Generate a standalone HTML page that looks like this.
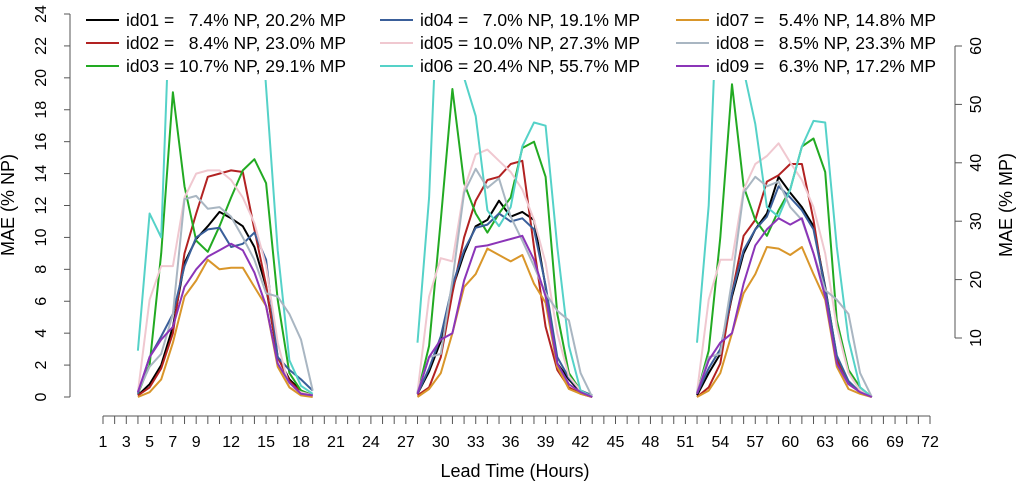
<!DOCTYPE html>
<html><head><meta charset="utf-8"><style>
body{margin:0;background:#fff;}
svg text{font-family:"Liberation Sans",Arial,sans-serif;fill:#000;}
.leg{white-space:pre;}
</style></head><body>
<svg id="chart" width="1024" height="488" viewBox="0 0 1024 488">
<defs><clipPath id="plotclip"><rect x="72" y="0" width="880" height="410"/></clipPath></defs>
<g id="lines" clip-path="url(#plotclip)"></g>
<rect x="80" y="0" width="870" height="80" fill="#fff"/>
<g id="legend"></g>
<g id="axes"></g>
<text x="14" y="205" font-size="18" text-anchor="middle" transform="rotate(-90 14 205)">MAE (% NP)</text>
<text x="1012" y="205" font-size="18" text-anchor="middle" transform="rotate(-90 1012 205)">MAE (% MP)</text>
<text x="515" y="477" font-size="18" text-anchor="middle">Lead Time (Hours)</text>
</svg>
<script>
const dayStarts = [4, 28, 52];
const seriesNames = ["id01","id02","id03","id04","id05","id06","id07","id08","id09"];
const legendLabels = ["id01 =   7.4% NP, 20.2% MP","id02 =   8.4% NP, 23.0% MP","id03 = 10.7% NP, 29.1% MP","id04 =   7.0% NP, 19.1% MP","id05 = 10.0% NP, 27.3% MP","id06 = 20.4% NP, 55.7% MP","id07 =   5.4% NP, 14.8% MP","id08 =   8.5% NP, 23.3% MP","id09 =   6.3% NP, 17.2% MP"];
const seriesColors = ["#000000","#b22222","#22aa22","#3a5f9a","#f0c8d0","#55d2c8","#d9962a","#a9b6c2","#8b35b8"];
const id01 = [0.1,0.8,2.0,4.4,8.4,9.9,10.7,11.6,11.2,10.7,9.4,6.9,2.5,1.1,0.4,0.1, 0.2,1.6,3.5,6.8,9.0,10.7,11.1,12.3,11.3,11.6,11.1,6.9,2.1,1.1,0.3,0.0, 0.1,1.5,2.7,6.3,9.0,10.5,11.5,13.8,12.8,11.9,10.7,6.9,2.5,0.9,0.3,0.0];
const id02 = [0.1,0.6,1.8,4.0,9.0,11.5,13.8,14.0,14.2,14.1,10.5,7.0,2.5,1.0,0.3,0.1, 0.1,0.6,2.5,6.5,10.0,12.3,13.6,13.8,14.6,14.8,9.4,4.4,1.7,0.6,0.2,0.0, 0.0,0.6,2.1,6.5,10.1,11.1,13.5,13.9,14.6,14.6,11.1,6.5,2.3,0.9,0.3,0.0];
const id03 = [0.2,2.0,9.0,19.1,13.2,9.8,9.1,10.7,12.5,14.2,14.9,13.4,6.1,1.5,0.4,0.1, 0.2,3.2,11.1,19.3,13.4,11.5,10.3,11.5,12.5,15.6,16.0,13.8,5.2,1.5,0.4,0.1, 0.2,2.9,10.0,19.6,13.2,11.1,10.1,11.7,13.0,15.7,16.2,14.1,4.8,1.7,0.6,0.0];
const id04 = [0.2,2.5,3.8,5.2,8.2,10.0,10.5,10.6,9.4,9.6,10.3,8.6,2.5,1.7,1.1,0.4, 0.2,1.8,3.8,7.0,9.2,10.6,10.8,11.5,11.0,11.2,10.5,7.0,2.5,1.2,0.4,0.1, 0.2,1.8,3.0,6.5,9.2,10.5,11.3,13.2,12.5,11.7,10.5,6.8,2.6,1.0,0.3,0.0];
const id05 = [0.3,6.1,8.2,8.2,12.5,14.0,14.2,14.2,13.6,12.5,10.9,8.2,3.4,0.6,0.3,0.1, 0.3,6.3,8.7,8.5,13.0,15.2,15.5,14.8,14.1,13.0,11.1,8.4,4.0,1.3,0.4,0.0, 0.3,6.1,8.6,8.6,13.0,14.6,15.1,15.9,14.7,13.6,11.9,9.0,4.4,1.5,0.4,0.0];
const id06 = [2.9,11.5,10.0,30,30,30,30,30,30,30,30,19.4,9.2,2.3,0.7,0.2, 3.4,12.5,30,30,20.0,17.6,11.7,10.7,11.9,15.7,17.2,17.0,9.4,3.2,0.4,0.0, 3.4,12.0,30,30,20.5,17.1,11.9,11.3,13.0,15.7,17.3,17.2,9.4,3.6,0.6,0.0];
const id07 = [0.0,0.3,1.1,3.4,6.3,7.3,8.6,8.0,8.1,8.1,6.9,5.7,1.9,0.6,0.1,0.0, 0.0,0.5,1.5,4.0,6.9,7.7,9.3,8.9,8.5,8.9,7.1,5.9,1.9,0.5,0.2,0.0, 0.0,0.4,1.5,4.0,6.5,7.7,9.4,9.3,8.9,9.4,7.7,6.1,1.9,0.5,0.2,0.0];
const id08 = [0.3,1.9,2.7,5.2,12.4,12.6,11.8,11.9,11.3,10.0,8.6,6.5,6.3,5.2,3.6,0.4, 0.3,2.5,2.7,7.3,12.8,14.3,13.1,13.7,11.3,9.8,8.2,6.5,5.4,4.8,1.5,0.0, 0.3,2.5,2.7,7.3,12.8,13.8,13.2,13.5,11.9,11.1,9.0,6.7,6.1,5.2,1.5,0.0];
const id09 = [0.3,2.5,3.6,4.4,6.9,8.0,8.8,9.2,9.6,9.2,7.8,5.7,2.1,0.9,0.2,0.1, 0.2,2.5,3.6,4.0,7.3,9.4,9.5,9.7,9.9,10.1,8.6,6.3,2.1,0.8,0.3,0.0, 0.2,2.3,3.4,4.0,7.1,9.5,10.5,11.2,10.8,11.2,9.0,6.3,2.1,0.8,0.3,0.0];
const seriesData = [id01,id02,id03,id04,id05,id06,id07,id08,id09];
const xTickLabels = [1,3,5,7,9,12,15,18,21,24,27,30,33,36,39,42,45,48,51,54,57,60,63,66,69,72];
const yTicksLeft = [0,2,4,6,8,10,12,14,16,18,20,22,24];
const yTicksRight = [10,20,30,40,50,60];

const NS="http://www.w3.org/2000/svg";
const xs = h => 103 + (h-1)*(827/71);
const ys = v => 397 - v*(383/24);
const ysR = m => 338 - (m-10)*(292/50);
function mk(tag, attrs, parent){const e=document.createElementNS(NS,tag);for(const k in attrs)e.setAttribute(k,attrs[k]);parent.appendChild(e);return e;}

const lines=document.getElementById('lines');
seriesData.forEach((arr,si)=>{
  dayStarts.forEach((d,di)=>{
    const pts=[];
    for(let k=0;k<16;k++){pts.push(xs(d+k).toFixed(1)+','+ys(arr[di*16+k]).toFixed(1));}
    const pl=mk('polyline',{points:pts.join(' '),fill:'none',stroke:seriesColors[si],'stroke-width':2,'stroke-linejoin':'round'},lines);
    
    
  });
});

const leg=document.getElementById('legend');
const colX=[86,380,676], rowY=[20,43,66];
legendLabels.forEach((lab,i)=>{
  const c=Math.floor(i/3), r=i%3;
  const ln=mk('line',{x1:colX[c],x2:colX[c]+33,y1:rowY[r],y2:rowY[r],stroke:seriesColors[i],'stroke-width':2},leg);
  
  
  const t=mk('text',{x:colX[c]+40,y:rowY[r]+6,'font-size':17.5,'class':'leg'},leg);
  t.textContent=lab;
  
  
});

const ax=document.getElementById('axes');
const ST='#555';
mk('line',{x1:70,x2:70,y1:ys(0),y2:ys(24),stroke:ST,'stroke-width':1},ax);
yTicksLeft.forEach(v=>{
  mk('line',{x1:64,x2:70,y1:ys(v),y2:ys(v),stroke:ST},ax);
  const t=mk('text',{x:46,y:ys(v),'font-size':16,'text-anchor':'middle',transform:`rotate(-90 46 ${ys(v)})`},ax);
  t.textContent=v;
  
  
});
mk('line',{x1:955,x2:955,y1:ysR(10),y2:ysR(60),stroke:ST},ax);
yTicksRight.forEach(v=>{
  mk('line',{x1:955,x2:962,y1:ysR(v),y2:ysR(v),stroke:ST},ax);
  const t=mk('text',{x:981,y:ysR(v),'font-size':16,'text-anchor':'middle',transform:`rotate(-90 981 ${ysR(v)})`},ax);
  t.textContent=v;
  
  
});
mk('line',{x1:xs(1),x2:xs(72),y1:416,y2:416,stroke:ST},ax);
for(let h=1;h<=72;h++){mk('line',{x1:xs(h),x2:xs(h),y1:416,y2:424,stroke:ST},ax);}
xTickLabels.forEach(h=>{
  const t=mk('text',{x:xs(h),y:447,'font-size':16,'text-anchor':'middle'},ax);
  t.textContent=h;
  
  
});
</script>
</body></html>
